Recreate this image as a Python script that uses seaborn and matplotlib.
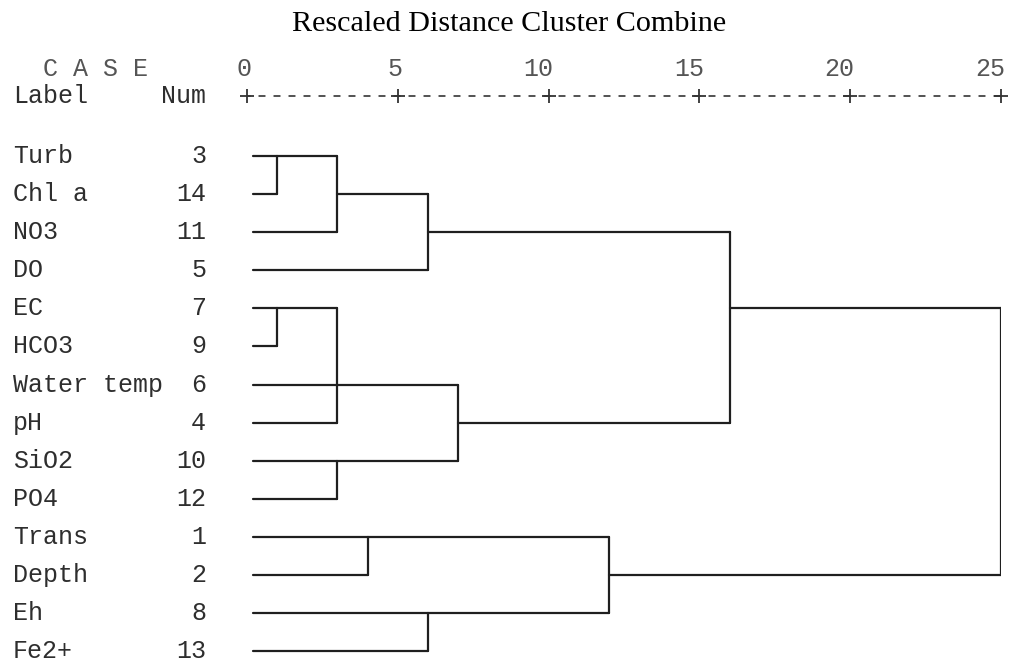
import numpy as np
import pandas as pd
import matplotlib
matplotlib.use("Agg")
import matplotlib.pyplot as plt
import matplotlib.transforms as mtransforms
import seaborn as sns

# ---------------- data ----------------
labels = ["Turb", "Chl a", "NO3", "DO", "EC", "HCO3", "Water temp", "pH",
          "SiO2", "PO4", "Trans", "Depth", "Eh", "Fe2+"]
nums = [3, 14, 11, 5, 7, 9, 6, 4, 10, 12, 1, 2, 8, 13]

# agglomeration steps (L = leaf row index, C = earlier cluster)
merge_members = [
    ["L0", "L1"],          # C0  Turb + Chl a
    ["C0", "L2"],          # C1  + NO3
    ["C1", "L3"],          # C2  + DO
    ["L4", "L5"],          # C3  EC + HCO3
    ["C3", "L6", "L7"],    # C4  + Water temp + pH
    ["L8", "L9"],          # C5  SiO2 + PO4
    ["C4", "C5"],          # C6
    ["L10", "L11"],        # C7  Trans + Depth
    ["L12", "L13"],        # C8  Eh + Fe2+
    ["C7", "C8"],          # C9
    ["C2", "C6"],          # C10
    ["C10", "C9"],         # C11
]
merge_heights = [1, 3, 6, 1, 3, 3, 7, 4, 6, 12, 16, 25]
merge_rows = [0, 1, 2, 4, 6, 8, 7, 10, 12, 11, 4, 7]   # row where a cluster's line continues

tick_values = [0, 5, 10, 15, 20, 25]
title = "Rescaled Distance Cluster Combine"

# ---------------- style ----------------
sns.set_theme(style="white")
plt.rcParams['font.family'] = ['Liberation Mono', 'DejaVu Sans']
plt.rcParams['lines.scale_dashes'] = False

W, H = 1014, 666
fig = plt.figure(figsize=(W / 100, H / 100), dpi=100)
fig.patch.set_facecolor("white")

x0_px, x25_px = 247, 1001
row0_px, row_step = 156, 38.1
ax = fig.add_axes([x0_px / W, 0, (x25_px - x0_px) / W, 1])

leaf_start = 0.2
pos = {f"L{i}": (leaf_start, i) for i in range(len(labels))}
recs = []
seg = 0
for k, (mem, h, r) in enumerate(zip(merge_members, merge_heights, merge_rows)):
    rows = []
    for m in mem:
        x, y = pos[m]
        recs += [(seg, x, y), (seg, h, y)]
        seg += 1
        rows.append(y)
    recs += [(seg, h, min(rows)), (seg, h, max(rows))]
    seg += 1
    pos[f"C{k}"] = (h, r)
df = pd.DataFrame(recs, columns=["seg", "x", "y"])

sns.lineplot(data=df, x="x", y="y", units="seg", estimator=None, sort=False,
             color="#1f1f1f", lw=1.6, ax=ax, legend=False)

ax.set_xlim(0, 25)
ax.set_ylim((H - row0_px) / row_step, -row0_px / row_step)
ax.axis("off")

def prow(px):
    return (px - row0_px) / row_step

txt_col = "#2e2e2e"
fs = 18
blend = mtransforms.blended_transform_factory(fig.transFigure, ax.transData)

# labels and numbers
for i, (lab, n) in enumerate(zip(labels, nums)):
    ax.text(13 / W, i, lab, transform=blend, ha="left", va="center",
            fontsize=fs, color=txt_col, clip_on=False)
    ax.text(206 / W, i, str(n), transform=blend, ha="right", va="center",
            fontsize=fs, color=txt_col, clip_on=False)

# header
ax.text(43 / W, prow(69), "C A S E", transform=blend, ha="left", va="center",
        fontsize=fs, color="#555555", clip_on=False)
ax.text(13 / W, prow(96), "Label", transform=blend, ha="left", va="center",
        fontsize=fs, color=txt_col, clip_on=False)
ax.text(206 / W, prow(96), "Num", transform=blend, ha="right", va="center",
        fontsize=fs, color=txt_col, clip_on=False)

# top scale
for t in tick_values:
    ax.text(t + 0.15, prow(69), str(t), ha="right", va="center",
            fontsize=fs, color="#555555", clip_on=False)
ax.plot([0, 25], [prow(96)] * 2, color="#444444", lw=1.3,
        ls=(2.5, (5, 5.8)), clip_on=False)
ax.plot(tick_values, [prow(96)] * len(tick_values), ls="none", marker="+",
        ms=10, mew=1.3, color="#333333", clip_on=False)

fig.text(509 / W, 1 - 24 / H, title, ha="center", va="center",
         fontsize=21.7, family=["Liberation Serif", "DejaVu Serif"], color="black")

fig.savefig("out.png", dpi=100, facecolor="white")
